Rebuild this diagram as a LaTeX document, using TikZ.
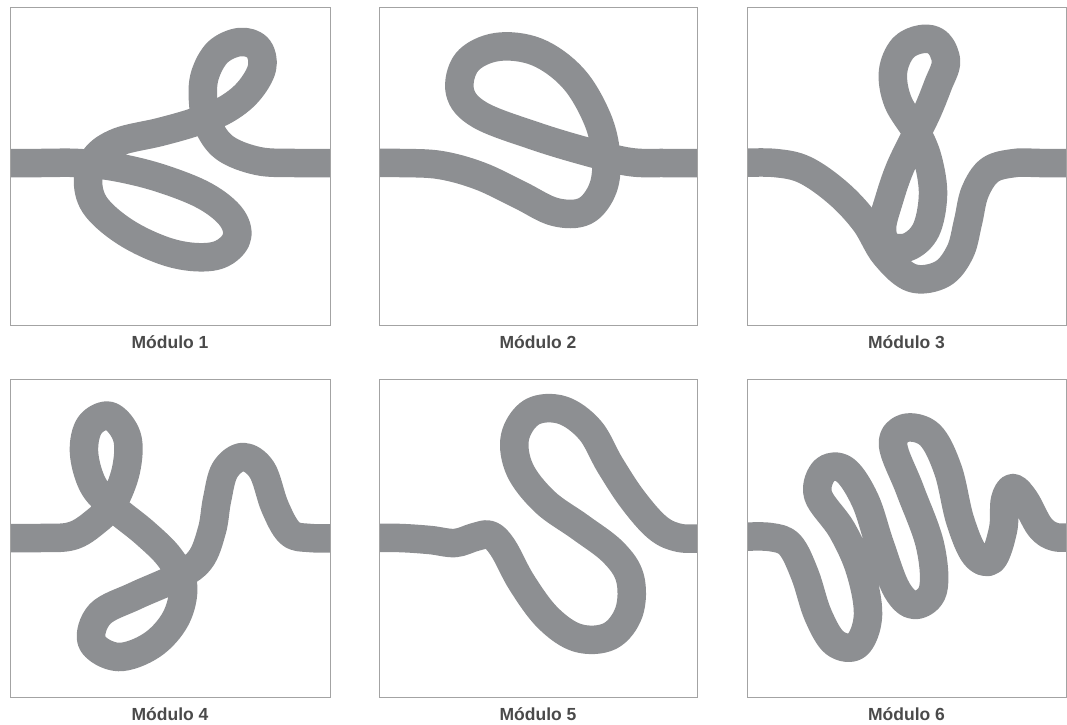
\documentclass[tikz,border=0pt]{standalone}
\usepackage{fontspec}
\setmainfont{Liberation Sans}
\usetikzlibrary{positioning}
\definecolor{cstrand}{HTML}{8D8F92}
\definecolor{cframe}{HTML}{A3A3A3}
\definecolor{clabel}{HTML}{4A4A4A}
\tikzset{
  strand/.style={draw=cstrand, line width=28.5pt, line join=round},
  frame/.style={draw=cframe, line width=1pt},
  caption/.style={font=\bfseries\fontsize{17.5}{20}\selectfont, text=clabel},
}

\begin{document}
\begin{tikzpicture}[x=1pt, y=-1pt]
  \useasboundingbox (0,0) rectangle (1067,724);
  % Modulo 1
  \begin{scope}
    \clip (10,7) rectangle (330,325);
    \draw[strand] plot[smooth, tension=0.6] coordinates {(0,163) (40,163) (78,163) (115,167) (160,178) (205,196) (232,218) (236,240) (215,256) (175,254) (130,235) (97,208) (88,182) (95,158) (118,142) (160,132) (195,122) (225,110) (248,92) (262,68) (258,48) (240,42) (218,52) (205,75) (203,100) (208,125) (225,148) (258,161) (295,163) (340,163)};
  \end{scope}
  % Modulo 2
  \begin{scope}
    \clip (379,7) rectangle (697,325);
    \draw[strand] plot[smooth, tension=0.6] coordinates {(370,163) (400,163) (440,165) (480,176) (520,195) (555,212) (585,211) (603,188) (606,155) (597,118) (573,78) (537,52) (497,47) (467,62) (460,92) (480,115) (535,136) (588,152) (630,162) (665,163) (705,163)};
  \end{scope}
  % Modulo 3
  \begin{scope}
    \clip (747,7) rectangle (1066,325);
    \draw[strand] plot[smooth, tension=0.6] coordinates {(740,163) (775,163) (805,170) (838,193) (865,222) (885,255) (912,278) (942,274) (960,252) (968,222) (975,192) (990,170) (1015,163) (1040,163) (1075,163)};
    \draw[strand] plot[smooth cycle, tension=0.6] coordinates {(917,133) (928,110) (938,85) (946,62) (938,43) (922,39) (903,48) (893,72) (898,102) (917,133) (928,160) (933,195) (926,230) (908,247) (888,245) (882,228) (889,200) (900,168)};
  \end{scope}
  % Modulo 4
  \begin{scope}
    \clip (10,379) rectangle (330,697);
    \draw[strand] plot[smooth, tension=0.6] coordinates {(0,538) (40,538) (72,536) (95,522) (113,503) (126,470) (127,437) (110,416) (90,425) (84,452) (93,485) (113,507) (145,533) (170,558) (183,585) (176,618) (152,645) (118,657) (92,642) (100,614) (135,596) (175,578) (200,560) (212,530) (217,500) (225,470) (243,457) (262,470) (275,507) (290,533) (310,538) (340,538)};
  \end{scope}
  % Modulo 5
  \begin{scope}
    \clip (379,379) rectangle (697,697);
    \draw[strand] plot[smooth, tension=0.6] coordinates {(370,538) (400,538) (430,540) (455,543) (475,537) (490,535) (503,548) (522,583) (548,618) (578,638) (610,636) (629,612) (630,578) (613,552) (580,527) (545,502) (520,470) (515,437) (532,412) (562,410) (590,430) (610,465) (633,500) (658,528) (680,538) (705,538)};
  \end{scope}
  % Modulo 6
  \begin{scope}
    \clip (747,379) rectangle (1066,697);
    \draw[strand] plot[smooth, tension=0.6] coordinates {(740,537) (770,537) (790,545) (805,575) (818,615) (835,643) (857,645) (868,615) (860,570) (842,530) (818,495) (825,470) (845,470) (865,500) (880,545) (897,590) (915,605) (933,590) (930,545) (910,490) (893,445) (905,428) (930,435) (948,470) (960,520) (975,555) (992,560) (1003,530) (1005,500) (1013,488) (1025,500) (1040,527) (1055,537) (1075,537)};
  \end{scope}
  % frames and captions
  \foreach \x/\y/\w/\i in {10/7/320/1, 379/7/318/2, 747/7/319/3, 10/379/320/4, 379/379/318/5, 747/379/319/6}{
    \draw[frame] (\x,\y) rectangle ++(\w,318);
    \node[caption] (cap\i) at ({\x+\w/2},{\y+335}) {Módulo \i};
  }
\end{tikzpicture}
\end{document}
